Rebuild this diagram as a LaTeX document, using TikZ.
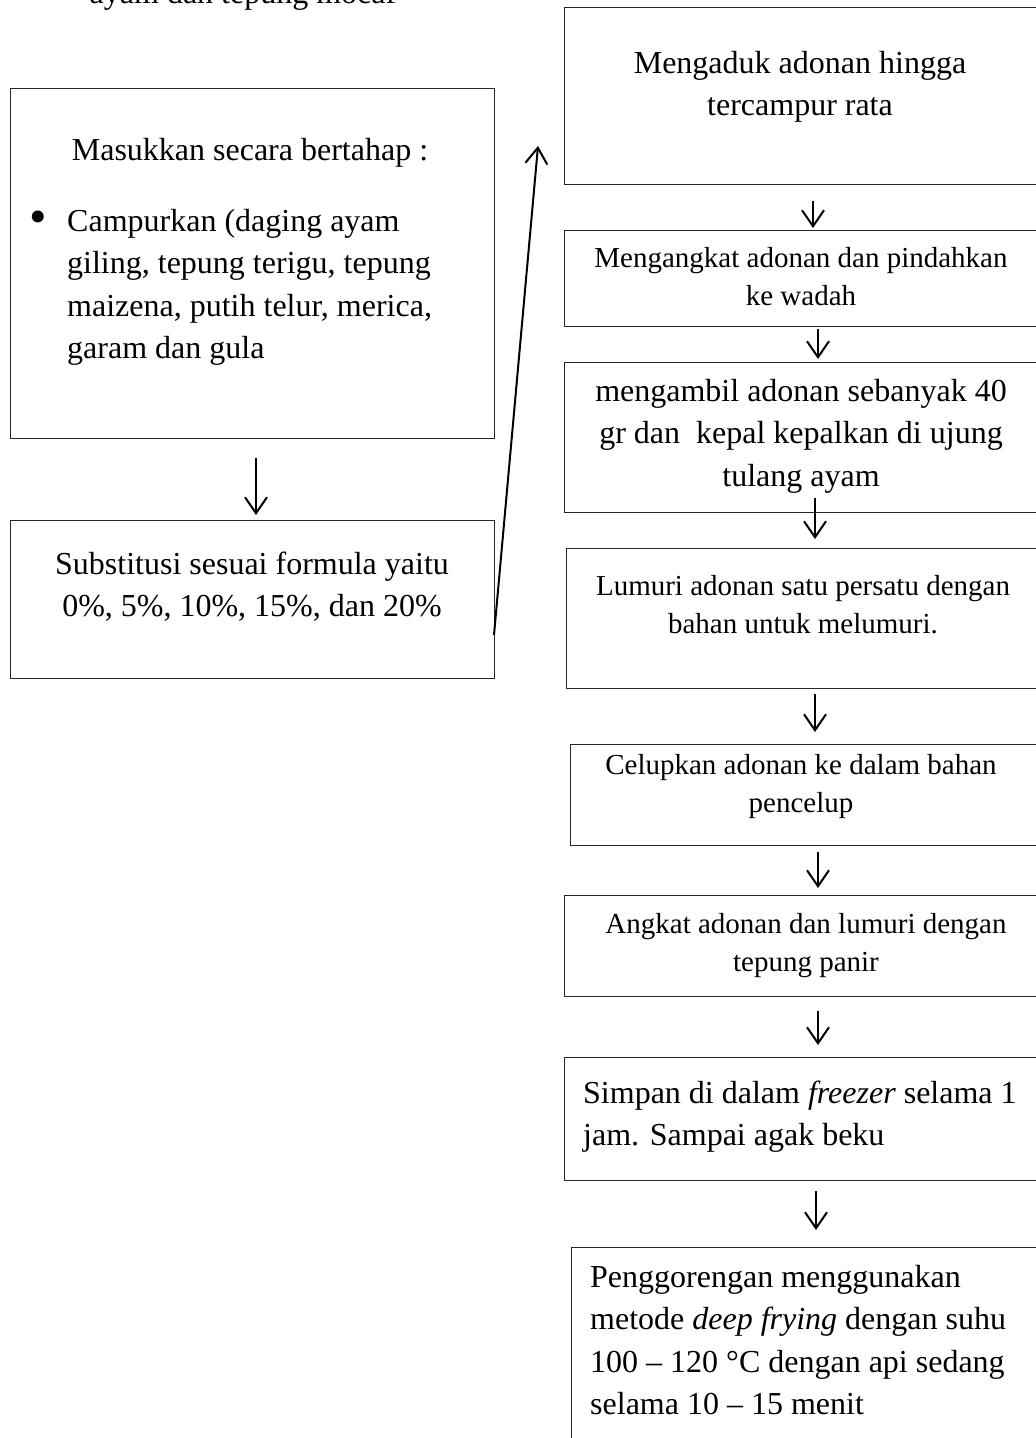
\documentclass[tikz,border=0pt]{standalone}
\usepackage{fontspec}
\setmainfont{Liberation Serif}
\usetikzlibrary{arrows.meta}
\begin{document}
\begin{tikzpicture}[x=1pt,y=-1pt,
  box/.style={draw=black!85,line width=1pt,rectangle,inner sep=0pt,anchor=north west},
  big/.style={font=\fontsize{32}{42.5}\selectfont,inner sep=0pt,anchor=base},
  small/.style={font=\fontsize{29}{38}\selectfont,inner sep=0pt,anchor=base},
  arr/.style={line width=2pt,-{Straight Barb[length=16pt,width=22pt]}}]
\useasboundingbox (0,0) rectangle (1036,1438);
\clip (0,0) rectangle (1036,1438);
\fill[white] (0,0) rectangle (1036,1438);

% top cut text
\node[big] (toptext) at (243,3) {ayam dan tepung mocaf};

% left boxes
\node[box,minimum width=484pt,minimum height=350pt] (L1) at (10,88) {};
\node[box,minimum width=484pt,minimum height=158pt] (L2) at (10,520) {};
\node[big] (L1t) at (250,160) {Masukkan secara bertahap :};
\node[inner sep=0pt,anchor=center,font=\fontsize{50}{50}\selectfont] (L1b) at (38,222) {\textbullet};
\node[big,anchor=base west,align=left] (L1l) at (67,358.5) {Campurkan (daging ayam\\giling, tepung terigu, tepung\\maizena, putih telur, merica,\\garam dan gula};
\node[big,align=center] (L2t) at (252,616.5) {Substitusi sesuai formula yaitu\\0\%, 5\%, 10\%, 15\%, dan 20\%};

% right boxes
\node[box,minimum width=486pt,minimum height=177pt] (R1) at (564,7) {};
\node[box,minimum width=486pt,minimum height=96pt] (R2) at (564,230) {};
\node[box,minimum width=486pt,minimum height=150pt] (R3) at (564,362) {};
\node[box,minimum width=484pt,minimum height=140pt] (R4) at (566,548) {};
\node[box,minimum width=480pt,minimum height=101pt] (R5) at (570,744) {};
\node[box,minimum width=486pt,minimum height=101pt] (R6) at (564,895) {};
\node[box,minimum width=486pt,minimum height=123pt] (R7) at (564,1057) {};
\node[box,minimum width=479pt,minimum height=260pt] (R8) at (571,1247) {};

\node[big,align=center] (R1t) at (800,115.5) {Mengaduk adonan hingga\\tercampur rata};
\node[small,align=center] (R2t) at (801,305) {Mengangkat adonan dan pindahkan\\ke wadah};
\node[big,align=center] (R3t) at (801,486) {mengambil adonan sebanyak 40\\gr dan\ \ kepal kepalkan di ujung\\tulang ayam};
\node[small,align=center] (R4t) at (803,633) {Lumuri adonan satu persatu dengan\\bahan untuk melumuri.};
\node[small,align=center] (R5t) at (801,812) {Celupkan adonan ke dalam bahan\\pencelup};
\node[small,align=center] (R6t) at (806,971) {Angkat adonan dan lumuri dengan\\tepung panir};
\node[big,anchor=base west,align=left] (R7t) at (583,1145.5) {Simpan di dalam \textit{freezer} selama 1\\jam. Sampai agak beku};
\node[big,anchor=base west,align=left] (R8t) at (590,1414.5) {Penggorengan menggunakan\\metode \textit{deep frying} dengan suhu\\100 – 120 °C dengan api sedang\\selama 10 – 15 menit};

% connector columns
\coordinate (cL) at (256,0);
\coordinate (c1) at (813,0);
\coordinate (c2) at (818,0);
\coordinate (c3) at (815,0);
\coordinate (c4) at (815,0);
\coordinate (c5) at (818,0);
\coordinate (c6) at (818,0);
\coordinate (c7) at (816,0);
\coordinate (longstart) at (494,635);
\coordinate (longend) at (538,146);

\draw[arr,shorten <=19pt,shorten >=5pt] (L1.south -| cL) -- (L2.north -| cL);
\draw[arr] (longstart) -- (longend);
\draw[arr,shorten <=16pt,shorten >=2pt] (R1.south -| c1) -- (R2.north -| c1);
\draw[arr,shorten <=2pt,shorten >=3pt] (R2.south -| c2) -- (R3.north -| c2);
\draw[arr,shorten <=-15pt,shorten >=9pt] (R3.south -| c3) -- (R4.north -| c3);
\draw[arr,shorten <=5pt,shorten >=12pt] (R4.south -| c4) -- (R5.north -| c4);
\draw[arr,shorten <=6pt,shorten >=7pt] (R5.south -| c5) -- (R6.north -| c5);
\draw[arr,shorten <=14pt,shorten >=12pt] (R6.south -| c6) -- (R7.north -| c6);
\draw[arr,shorten <=10pt,shorten >=17pt] (R7.south -| c7) -- (R8.north -| c7);
\end{tikzpicture}
\end{document}
